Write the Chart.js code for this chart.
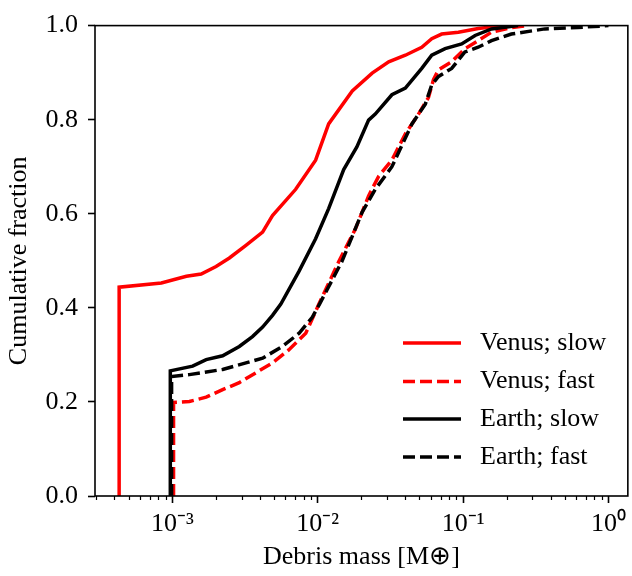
<!DOCTYPE html>
<html>
<head>
<meta charset="utf-8">
<script src="https://cdn.jsdelivr.net/npm/chart.js@4.4.1/dist/chart.umd.min.js"></script>
<style>
  html, body { margin: 0; padding: 0; background: #fff; }
  #wrap { width: 632px; height: 576px; }
</style>
</head>
<body>
<div id="wrap"><canvas id="chart" width="632" height="576"></canvas></div>
<script>
// debris mass [M_earth] vs cumulative fraction
const venusSlowMass = [4.31e-4, 4.31e-4, 8.41e-4, 1.25e-3, 1.58e-3, 2.0e-3, 2.47e-3, 3.21e-3, 4.18e-3, 4.89e-3, 7.06e-3, 9.68e-3, 1.19e-2, 1.73e-2, 2.37e-2, 3.08e-2, 4.01e-2, 5.2e-2, 6.09e-2, 7.13e-2, 9.29e-2, 0.127, 0.194];
const venusSlowFrac = [0, 0.444, 0.453, 0.467, 0.472, 0.488, 0.506, 0.533, 0.561, 0.596, 0.652, 0.714, 0.791, 0.861, 0.899, 0.923, 0.937, 0.954, 0.972, 0.982, 0.986, 0.994, 1.0];

const venusFastMass = [1.02e-3, 1.02e-3, 1.31e-3, 1.71e-3, 2.22e-3, 2.89e-3, 3.76e-3, 4.89e-3, 6.35e-3, 8.28e-3, 1.02e-2, 1.40e-2, 1.82e-2, 2.24e-2, 2.63e-2, 3.24e-2, 4.01e-2, 4.94e-2, 5.78e-2, 6.26e-2, 6.78e-2, 8.35e-2, 0.103, 0.127, 0.157, 0.215, 0.28];
const venusFastFrac = [0, 0.199, 0.201, 0.210, 0.226, 0.241, 0.262, 0.283, 0.311, 0.346, 0.408, 0.499, 0.568, 0.638, 0.680, 0.714, 0.770, 0.812, 0.847, 0.885, 0.906, 0.923, 0.951, 0.968, 0.986, 0.996, 1.0];

const earthSlowMass = [9.69e-4, 9.69e-4, 1.38e-3, 1.71e-3, 2.22e-3, 2.89e-3, 3.56e-3, 4.18e-3, 4.89e-3, 5.58e-3, 7.45e-3, 9.68e-3, 1.19e-2, 1.51e-2, 1.86e-2, 2.24e-2, 2.49e-2, 3.24e-2, 4.01e-2, 5.2e-2, 6.09e-2, 7.53e-2, 9.78e-2, 0.121, 0.157, 0.239];
const earthSlowFrac = [0, 0.266, 0.276, 0.290, 0.298, 0.318, 0.339, 0.359, 0.384, 0.408, 0.478, 0.547, 0.611, 0.694, 0.742, 0.799, 0.812, 0.853, 0.867, 0.909, 0.937, 0.951, 0.961, 0.979, 0.993, 1.0];

const earthFastMass = [9.89e-4, 9.89e-4, 1.31e-3, 2.22e-3, 3.21e-3, 4.18e-3, 5.73e-3, 7.45e-3, 9.18e-3, 1.03e-2, 1.47e-2, 2.02e-2, 2.49e-2, 3.24e-2, 4.45e-2, 5.5e-2, 6.09e-2, 6.78e-2, 8.35e-2, 0.103, 0.127, 0.157, 0.215, 0.365, 0.617, 1.0];
const earthFastFrac = [0, 0.254, 0.258, 0.269, 0.283, 0.293, 0.318, 0.346, 0.380, 0.408, 0.499, 0.603, 0.652, 0.700, 0.791, 0.833, 0.874, 0.892, 0.909, 0.944, 0.954, 0.968, 0.982, 0.993, 0.996, 1.0];

const xTickValues = [1e-3, 1e-2, 1e-1, 1];
const xTickLabels = ['10⁻³', '10⁻²', '10⁻¹', '10⁰'];
const xMin = 2.94e-4;
const xMax = 1.36;

const FONT = 'Liberation Serif, Times New Roman, serif';

function toPoints(mass, frac) {
  return mass.map((m, i) => ({ x: m, y: frac[i] }));
}

// minor tick positions 2..9 x 10^n inside the axis range
const minorTicks = [];
for (let e = -4; e <= 0; e++) {
  for (let k = 2; k <= 9; k++) {
    const v = k * Math.pow(10, e);
    if (v > xMin && v < xMax) minorTicks.push(v);
  }
}

const datasets = [
  { label: 'Venus; slow', data: toPoints(venusSlowMass, venusSlowFrac), borderColor: '#ff0000', order: 4 },
  { label: 'Venus; fast', data: toPoints(venusFastMass, venusFastFrac), borderColor: '#ff0000', borderDash: [12, 5], order: 3 },
  { label: 'Earth; slow', data: toPoints(earthSlowMass, earthSlowFrac), borderColor: '#000000', order: 2 },
  { label: 'Earth; fast', data: toPoints(earthFastMass, earthFastFrac), borderColor: '#000000', borderDash: [12, 5], order: 1 },
].map(d => Object.assign({ borderWidth: 3.5, pointRadius: 0, fill: false, tension: 0 }, d));

// frame, minor ticks and an in-axes legend like matplotlib's
const framePlugin = {
  id: 'frame',
  afterDraw(chart) {
    const { ctx, chartArea: a } = chart;
    const xs = chart.scales.x;
    ctx.save();
    ctx.strokeStyle = '#000';
    ctx.lineWidth = 1.6;
    ctx.setLineDash([]);
    ctx.strokeRect(a.left, a.top, a.right - a.left, a.bottom - a.top);
    ctx.lineWidth = 1.2;
    ctx.beginPath();
    minorTicks.forEach(v => {
      const px = Math.round(xs.getPixelForValue(v)) + 0.5;
      ctx.moveTo(px, a.bottom);
      ctx.lineTo(px, a.bottom + 4);
    });
    ctx.stroke();

    const rows = [343, 381.5, 419, 457];
    const x0 = 403, x1 = 461, tx = 480;
    ctx.font = '26px ' + FONT;
    ctx.textBaseline = 'middle';
    ctx.textAlign = 'left';
    chart.data.datasets.forEach((ds, i) => {
      ctx.strokeStyle = ds.borderColor;
      ctx.lineWidth = ds.borderWidth;
      ctx.setLineDash(ds.borderDash || []);
      ctx.beginPath();
      ctx.moveTo(x0, rows[i]);
      ctx.lineTo(x1, rows[i]);
      ctx.stroke();
      ctx.fillStyle = '#000';
      ctx.fillText(ds.label, tx, rows[i]);
    });
    ctx.restore();
  }
};

new Chart(document.getElementById('chart'), {
  type: 'line',
  data: { datasets },
  options: {
    responsive: false,
    devicePixelRatio: 1,
    animation: false,
    layout: { padding: { top: 16, right: 2, left: 0, bottom: 0 } },
    plugins: { legend: { display: false }, tooltip: { enabled: false } },
    scales: {
      x: {
        type: 'logarithmic',
        min: xMin,
        max: xMax,
        afterBuildTicks: (s) => { s.ticks = xTickValues.map(v => ({ value: v })); },
        afterFit: (s) => { s.height = 80; },
        grid: { drawOnChartArea: false, drawTicks: true, tickLength: 7, tickWidth: 1.6, tickColor: '#000' },
        border: { display: false },
        ticks: {
          autoSkip: false,
          maxRotation: 0,
          padding: 6,
          color: '#000',
          font: { family: FONT, size: 26 },
          callback: (v, i) => xTickLabels[i]
        },
        title: {
          display: true,
          text: 'Debris mass [M⊕]',
          color: '#000',
          font: { family: FONT, size: 26 },
          padding: { top: 4, bottom: 3 }
        }
      },
      y: {
        type: 'linear',
        min: 0,
        max: 1,
        afterFit: (s) => { s.width = 95; },
        grid: { drawOnChartArea: false, drawTicks: true, tickLength: 7, tickWidth: 1.6, tickColor: '#000' },
        border: { display: false },
        ticks: {
          stepSize: 0.2,
          padding: 10,
          color: '#000',
          font: { family: FONT, size: 26 },
          callback: (v) => v.toFixed(1)
        },
        title: {
          display: true,
          text: 'Cumulative fraction',
          color: '#000',
          font: { family: FONT, size: 26 },
          padding: { top: 4, bottom: 0 }
        }
      }
    }
  },
  plugins: [framePlugin]
});
</script>
</body>
</html>
